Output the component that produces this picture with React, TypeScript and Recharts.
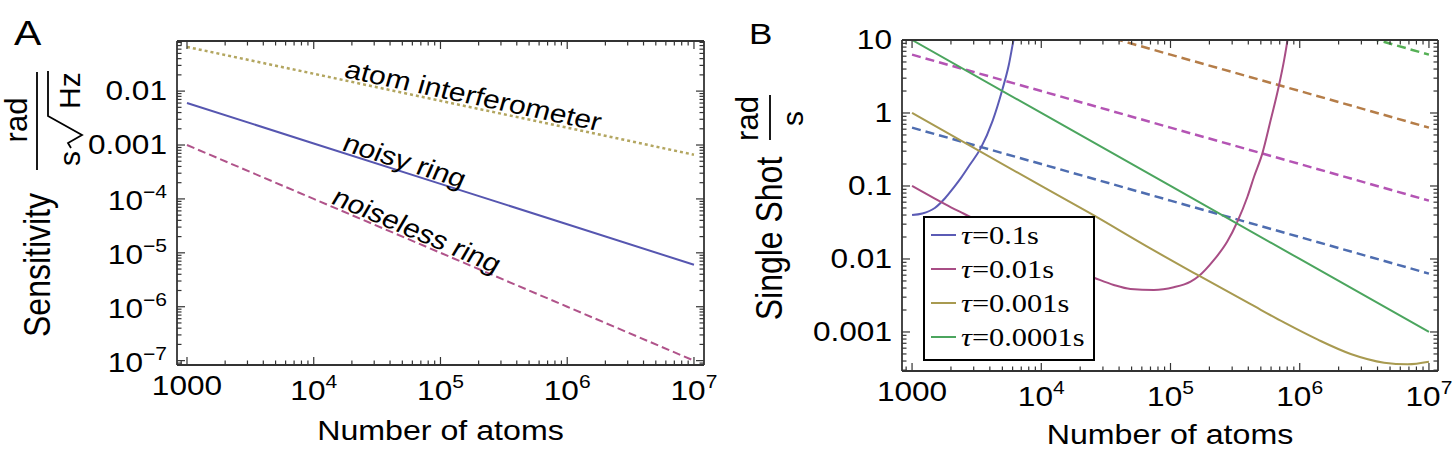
import React from 'react';
import { LineChart, Line, XAxis, YAxis, ReferenceDot, Legend } from 'recharts';

// the source figure is stretched sideways, so all text gets scaled by SX
const SX = 1.17;
const SANS = '"Liberation Sans", Arial, Helvetica, sans-serif';
const SERIF = '"Liberation Serif", "Times New Roman", serif';
const FRAME = '#333';

// ---------- panel A: sensitivity ----------
const aAtoms = [1000, 10000, 100000, 1000000, 10000000];
const aInterferometer = [0.066, 0.021, 0.0066, 0.0021, 0.00066];
const aNoisyRing = [0.006, 0.00107, 0.00019, 0.000034, 0.000006];
const aNoiselessRing = [0.001, 0.0001, 0.00001, 0.000001, 0.0000001];

const xTicks = [1000, 10000, 100000, 1000000, 10000000];
const xTickLabels = [['1000', ''], ['10', '4'], ['10', '5'], ['10', '6'], ['10', '7']];
const aYTicks = [0.01, 0.001, 0.0001, 0.00001, 0.000001, 0.0000001];
const aYTickLabels = [['0.01', ''], ['0.001', ''], ['10', '−4'], ['10', '−5'], ['10', '−6'], ['10', '−7']];

// ---------- panel B: single shot ----------
const bYTicks = [10, 1, 0.1, 0.01, 0.001];
const bYTickLabels = [['10', ''], ['1', ''], ['0.1', ''], ['0.01', ''], ['0.001', '']];

const bDecades = [1000, 10000, 100000, 1000000, 10000000];
const bTau00001 = [10, 1, 0.1, 0.01, 0.001];
const bLimit01 = [0.63, 0.2, 0.063, 0.02, 0.0063];
const bLimit001 = [6.3, 2, 0.63, 0.2, 0.063];
const bLimit0001 = [63, 20, 6.3, 2, 0.63];
const bLimit00001 = [630, 200, 63, 20, 6.3];

const bTau01N = [1000, 1200, 1500, 1800, 2100, 2400, 2800, 3400, 4200, 5000, 5600, 6100, 6400];
const bTau01V = [0.04, 0.042, 0.05, 0.068, 0.095, 0.13, 0.195, 0.33, 0.78, 2.1, 4.5, 10, 15];

const bTau001N = [1000, 1500, 2000, 2500, 26200, 36400, 49000, 74300, 106000, 143000, 166000, 217000, 275000, 329000, 394000, 443000, 514000, 596000, 692000, 757000, 804000, 830000];
const bTau001V = [0.1, 0.067, 0.051, 0.042, 0.00545, 0.0044, 0.00388, 0.00376, 0.0041, 0.0049, 0.00585, 0.0097, 0.0173, 0.0324, 0.0713, 0.134, 0.28, 0.8, 2.42, 5.3, 10, 15];

const bTau0001N = [1000, 10000, 24000, 72000, 166000, 417000, 755000, 1370000, 2480000, 4500000, 6840000, 10000000];
const bTau0001V = [1, 0.1, 0.042, 0.0135, 0.0059, 0.0024, 0.00135, 0.00079, 0.0005, 0.00038, 0.00036, 0.00039];

const legendOrder = ['τ=0.1s', 'τ=0.01s', 'τ=0.001s', 'τ=0.0001s'];

const pts = (ns: number[], vs: number[]) => ns.map((n, i) => ({ n, v: vs[i] }));

const minorTicks = (lo: number, hi: number) => {
  const out: number[] = [];
  for (let e = Math.floor(Math.log10(lo)); e <= Math.ceil(Math.log10(hi)); e++) {
    for (let m = 2; m <= 9; m++) {
      const v = m * Math.pow(10, e);
      if (v >= lo && v <= hi) out.push(v);
    }
  }
  return out;
};

const aXDomain = [834, 12000000];
const aYDomain = [0.000000083, 0.085];
const bXDomain = [836, 11750000];
const bYDomain = [0.000292, 10];

type Side = 'bottom' | 'top' | 'left' | 'right';

const makeTick = (side: Side, majors: number[], labels?: string[][]) => (props: any) => {
  const { x, y, payload } = props;
  const idx = majors.findIndex(m => Math.abs(m - payload.value) / m < 1e-6);
  const len = idx >= 0 ? 8 : 4.5;
  let x2 = x;
  let y2 = y;
  if (side === 'bottom') y2 = y - len;
  else if (side === 'top') y2 = y + len;
  else if (side === 'left') x2 = x + len;
  else x2 = x - len;
  let label = null;
  if (labels && idx >= 0) {
    const [base, exp] = labels[idx];
    const lx = side === 'bottom' ? x : x - 10;
    const ly = side === 'bottom' ? y + (exp ? 35 : 30) : y + (exp ? 11 : 9);
    label = (
      <text
        transform={`translate(${lx},${ly}) scale(${SX},1)`}
        textAnchor={side === 'bottom' ? 'middle' : 'end'}
        fontFamily={SANS}
        fontSize={27}
        fill="#000"
      >
        {base}
        {exp && <tspan fontSize={18} dy={-12}>{exp}</tspan>}
      </text>
    );
  }
  return (
    <g>
      <line x1={x} y1={y} x2={x2} y2={y2} stroke={FRAME} strokeWidth={1.2} />
      {label}
    </g>
  );
};

const Annotation = ({ cx, cy, text, angle }: any) => (
  <text
    transform={`translate(${cx},${cy}) scale(${SX},1) rotate(${angle})`}
    fontFamily={SANS}
    fontSize={25.8}
    fill="#000"
  >
    {text}
  </text>
);

const axisProps = {
  type: 'number' as const,
  scale: 'log' as const,
  allowDataOverflow: true,
  interval: 0 as const,
  tickLine: false,
  tickSize: 0,
  tickMargin: 0,
  axisLine: { stroke: FRAME, strokeWidth: 1.8 },
};

const LegendBox = ({ payload }: any) => {
  const items = legendOrder
    .map(name => (payload || []).find((p: any) => p.value === name))
    .filter(Boolean);
  return (
    <svg width={172} height={145} style={{ display: 'block' }}>
      <rect x={1} y={1} width={170} height={143} fill="#fff" stroke="#000" strokeWidth={2} />
      {items.map((p: any, i: number) => {
        const ry = 19 + i * 34;
        return (
          <g key={p.value}>
            <line x1={8} x2={33} y1={ry} y2={ry} stroke={p.color} strokeWidth={2} />
            <text transform={`translate(38,${ry + 9}) scale(${SX},1)`} fontFamily={SERIF} fontSize={26} fill="#000">
              <tspan fontStyle="italic">τ</tspan>
              {String(p.value).slice(1)}
            </text>
          </g>
        );
      })}
    </svg>
  );
};

const aMinorX = minorTicks(aXDomain[0], aXDomain[1]);
const aMinorY = minorTicks(aYDomain[0], aYDomain[1]);
const bMinorX = minorTicks(bXDomain[0], bXDomain[1]);
const bMinorY = minorTicks(bYDomain[0], bYDomain[1]);

const PanelA = () => (
  <LineChart width={720} height={455} margin={{ top: 40, right: 15, bottom: 60, left: 137 }}>
    <XAxis {...axisProps} dataKey="n" domain={aXDomain} height={30} ticks={[...xTicks, ...aMinorX]} tick={makeTick('bottom', xTicks, xTickLabels)} />
    <XAxis {...axisProps} xAxisId="top" orientation="top" dataKey="n" domain={aXDomain} height={1} ticks={[...xTicks, ...aMinorX]} tick={makeTick('top', xTicks)} />
    <YAxis {...axisProps} dataKey="v" domain={aYDomain} width={40} ticks={[...aYTicks, ...aMinorY]} tick={makeTick('left', aYTicks, aYTickLabels)} />
    <YAxis {...axisProps} yAxisId="right" orientation="right" domain={aYDomain} width={1} ticks={[...aYTicks, ...aMinorY]} tick={makeTick('right', aYTicks)} />
    <Line data={pts(aAtoms, aInterferometer)} dataKey="v" stroke="#b3a660" strokeWidth={2.5} strokeDasharray="3 3" dot={false} isAnimationActive={false} />
    <Line data={pts(aAtoms, aNoisyRing)} dataKey="v" stroke="#5656b0" strokeWidth={2} dot={false} isAnimationActive={false} />
    <Line data={pts(aAtoms, aNoiselessRing)} dataKey="v" stroke="#b0538a" strokeWidth={2} strokeDasharray="8 4" dot={false} isAnimationActive={false} />
    <ReferenceDot x={17000} y={0.0182} r={0} shape={(p: any) => <Annotation {...p} text="atom interferometer" angle={13.9} />} />
    <ReferenceDot x={16300} y={0.00082} r={0} shape={(p: any) => <Annotation {...p} text="noisy ring" angle={20.5} />} />
    <ReferenceDot x={13400} y={0.000084} r={0} shape={(p: any) => <Annotation {...p} text="noiseless ring" angle={26.6} />} />
  </LineChart>
);

const solid = (name: string, ns: number[], vs: number[], color: string, curved = true) => (
  <Line key={name} name={name} data={pts(ns, vs)} dataKey="v" type={curved ? 'monotone' : 'linear'} stroke={color} strokeWidth={2} dot={false} isAnimationActive={false} />
);

const dashed = (name: string, vs: number[], color: string) => (
  <Line key={name} name={name} legendType="none" data={pts(bDecades, vs)} dataKey="v" stroke={color} strokeWidth={2.5} strokeDasharray="9 5" dot={false} isAnimationActive={false} />
);

const PanelB = () => (
  <LineChart width={734} height={455} margin={{ top: 39, right: 15, bottom: 54, left: 142 }}>
    <XAxis {...axisProps} dataKey="n" domain={bXDomain} height={30} ticks={[...xTicks, ...bMinorX]} tick={makeTick('bottom', xTicks, xTickLabels)} />
    <XAxis {...axisProps} xAxisId="top" orientation="top" dataKey="n" domain={bXDomain} height={1} ticks={[...xTicks, ...bMinorX]} tick={makeTick('top', xTicks)} />
    <YAxis {...axisProps} dataKey="v" domain={bYDomain} width={40} ticks={[...bYTicks, ...bMinorY]} tick={makeTick('left', bYTicks, bYTickLabels)} />
    <YAxis {...axisProps} yAxisId="right" orientation="right" domain={bYDomain} width={1} ticks={[...bYTicks, ...bMinorY]} tick={makeTick('right', bYTicks)} />
    {dashed('limit 0.1', bLimit01, '#4e6db0')}
    {dashed('limit 0.01', bLimit001, '#b454b4')}
    {dashed('limit 0.001', bLimit0001, '#b57d48')}
    {dashed('limit 0.0001', bLimit00001, '#55b055')}
    {solid('τ=0.1s', bTau01N, bTau01V, '#5b5bb5')}
    {solid('τ=0.01s', bTau001N, bTau001V, '#a84d85')}
    {solid('τ=0.001s', bTau0001N, bTau0001V, '#a89a50')}
    {solid('τ=0.0001s', bDecades, bTau00001, '#4ba55e', false)}
    <Legend
      layout="vertical"
      align="center"
      verticalAlign="middle"
      content={(p: any) => <LegendBox {...p} />}
      wrapperStyle={{ position: 'absolute', left: 203, top: 216, width: 172, height: 145 }}
    />
  </LineChart>
);

const Titles = () => (
  <svg width={1454} height={455} style={{ position: 'absolute', left: 0, top: 0, pointerEvents: 'none' }}>
    <g fontFamily={SANS} fill="#000">
      <text transform={`translate(14,45) scale(${SX},1)`} fontSize={35}>A</text>
      <text transform={`translate(749,44) scale(${SX},1)`} fontSize={30}>B</text>
      <text transform={`translate(440.5,440) scale(${SX},1)`} fontSize={27.5} textAnchor="middle">Number of atoms</text>
      <text transform={`translate(1170,444) scale(${SX},1)`} fontSize={27.5} textAnchor="middle">Number of atoms</text>

      {/* panel A y title: Sensitivity rad/(s sqrt Hz) */}
      <text transform={`translate(37,265) scale(${SX},1) rotate(-90)`} x={0} y={11} fontSize={32} textAnchor="middle">Sensitivity</text>
      <g transform="translate(37,265) rotate(-90)">
        <line x1={95} x2={193} y1={0} y2={0} stroke="#000" strokeWidth={1.8} />
        <text x={145} y={-10} fontSize={31} textAnchor="middle">rad</text>
        <text x={99} y={43} fontSize={30}>s</text>
        <path d="M117,34 L122,31 L130,45 L149,11 L194,11" fill="none" stroke="#000" strokeWidth={1.8} />
        <text x={156} y={43} fontSize={30}>Hz</text>
      </g>

      {/* panel B y title: Single Shot rad/s */}
      <text transform={`translate(770,238.5) scale(${SX},1) rotate(-90)`} x={0} y={10} fontSize={32} textAnchor="middle">Single Shot</text>
      <g transform="translate(770,238.5) rotate(-90)">
        <line x1={98.5} x2={143.5} y1={0} y2={0} stroke="#000" strokeWidth={1.8} />
        <text x={120} y={-12} fontSize={31} textAnchor="middle">rad</text>
        <text x={120} y={33} fontSize={30} textAnchor="middle">s</text>
      </g>
    </g>
  </svg>
);

export default function App() {
  return (
    <div style={{ position: 'absolute', left: 0, top: 0, width: 1454, height: 455, background: '#fff' }}>
      <div style={{ position: 'absolute', left: 0, top: 0 }}>
        <PanelA />
      </div>
      <div style={{ position: 'absolute', left: 720, top: 0 }}>
        <PanelB />
      </div>
      <Titles />
    </div>
  );
}
